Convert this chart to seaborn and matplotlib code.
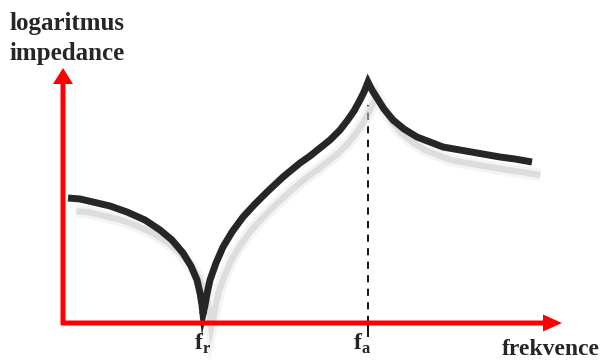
import matplotlib
matplotlib.use("Agg")
import matplotlib.pyplot as plt
import matplotlib.patheffects as pe
import seaborn as sns

sns.set_style("white")
plt.rcParams["font.family"] = ["Liberation Serif", "DejaVu Serif"]
plt.rcParams["mathtext.fontset"] = "custom"
plt.rcParams["mathtext.bf"] = "Liberation Serif:bold"
plt.rcParams["mathtext.rm"] = "Liberation Serif:bold"

OUTPUT = "out.png"

# curve (arbitrary units: frequency vs. log impedance)
FREQ = [5, 17, 30, 47, 64, 82, 97, 109, 120, 128, 134, 137, 139, 140,
        142, 144, 147, 153, 160, 169, 180, 192, 204, 220, 237, 247, 257,
        267, 277, 284, 291, 297, 301, 305, 309, 314, 321, 330, 341, 354,
        367, 380, 397, 414, 437, 452, 469]
LOG_Z = [125, 124, 121, 117, 111, 103, 93, 83, 70, 57, 43, 30, 18, 9,
         18, 29, 43, 60, 76, 91, 106, 119, 131, 146, 160, 167, 175,
         183, 193, 202, 212, 223, 231, 241, 233, 225, 214, 203, 194, 186,
         181, 176, 173, 170, 166, 164, 161]
F_R = 140
F_A = 305
X_LABEL = "frekvence"
Y_LABEL = ["logaritmus", "impedance"]

RED = "#ff0000"
CURVE = "#262626"


def main():
    fig = plt.figure(figsize=(6.14, 3.6), dpi=100)
    ax = fig.add_axes([0, 0, 1, 1])
    ax.set_xlim(-63, 551)
    ax.set_ylim(-37, 323)
    ax.axis("off")

    # dashed marker under the antiresonance peak
    ax.vlines(F_A, 0, 218, colors="black", linestyles=(0, (4, 3.5)), linewidth=1.3, zorder=1)
    ax.vlines(F_A, -14, 0, colors="black", linewidth=1.3, zorder=1)

    # axes with arrows
    ax.arrow(0, -2, 0, 257, width=5, head_width=20, head_length=16,
             length_includes_head=True, color=RED, lw=0, zorder=3)
    ax.arrow(-2, 0, 501, 0, width=5, head_width=17, head_length=19,
             length_includes_head=True, color=RED, lw=0, zorder=3)

    # soft drop shadow under the curve
    shadow = [
        pe.SimpleLineShadow(offset=(6, -9.5), shadow_color="#c8c8c8", alpha=0.2, linewidth=9),
        pe.SimpleLineShadow(offset=(6, -9.5), shadow_color="#c8c8c8", alpha=0.5, linewidth=4.5),
        pe.Normal(),
    ]
    sns.lineplot(x=FREQ, y=LOG_Z, ax=ax, color=CURVE, linewidth=5, sort=False,
                 solid_capstyle="butt", solid_joinstyle="miter",
                 path_effects=shadow, zorder=2)

    ax.text(-53, 293, Y_LABEL[0], fontsize=18, fontweight="bold", va="baseline")
    ax.text(-53, 263, Y_LABEL[1], fontsize=18, fontweight="bold", va="baseline")
    ax.text(439, -32, X_LABEL, fontsize=17, fontweight="bold", va="baseline")
    ax.text(F_R, -27, r"$\mathbf{f}_\mathbf{r}$", fontsize=17, ha="center", va="baseline")
    ax.text(F_A - 6, -27, r"$\mathbf{f}_\mathbf{a}$", fontsize=17, ha="center", va="baseline")

    fig.savefig(OUTPUT, dpi=100, facecolor="white")
    plt.close(fig)


if __name__ == "__main__":
    main()
